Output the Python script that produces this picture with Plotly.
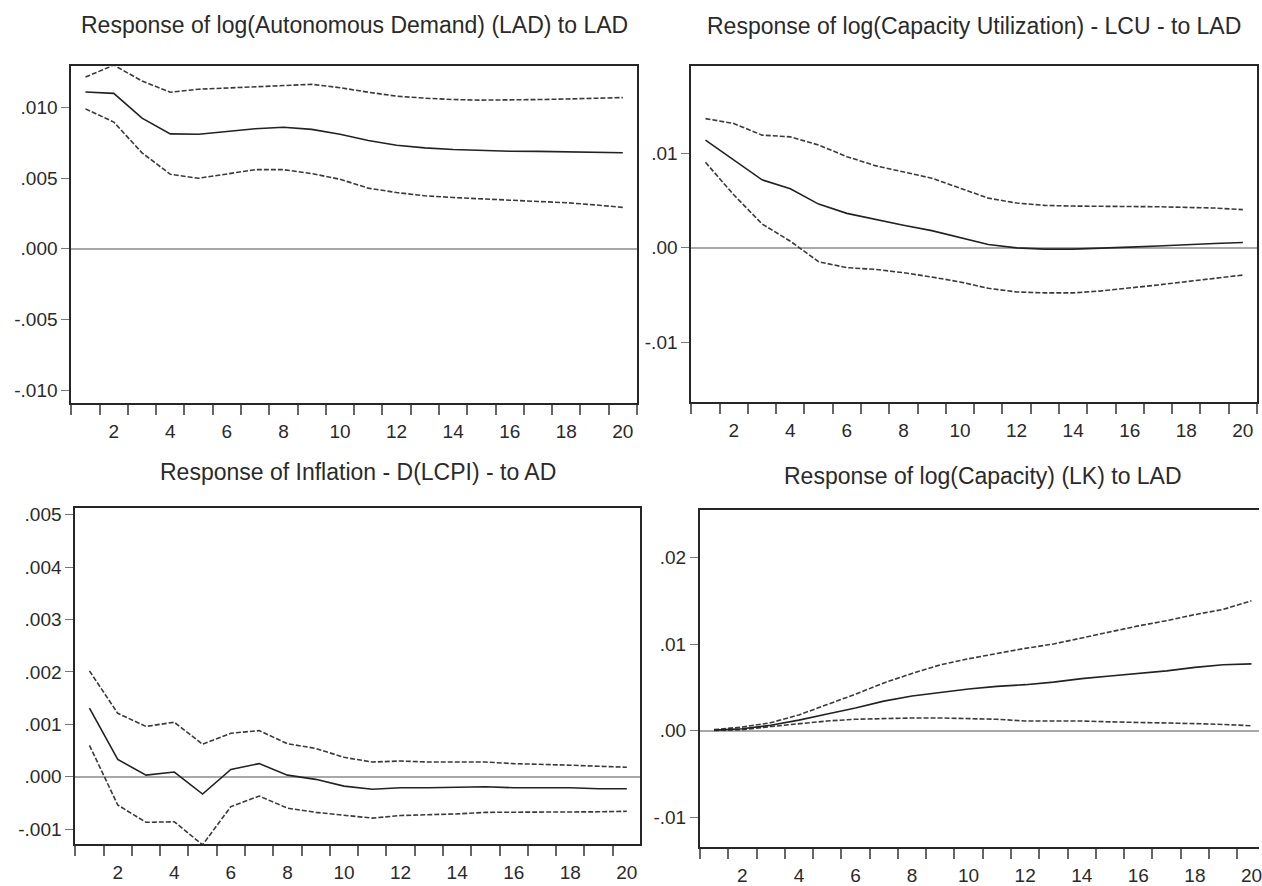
import plotly.graph_objects as go

W, H = 1262, 886

periods = list(range(1, 21))

# Panel 1: Response of LAD to LAD
lad_mid = [0.0111, 0.0110, 0.00925, 0.00813, 0.0081, 0.0083, 0.0085, 0.0086, 0.00845, 0.0081,
           0.00766, 0.00733, 0.00714, 0.00703, 0.00696, 0.0069, 0.00689, 0.00686, 0.00684, 0.0068]
lad_hi = [0.01215, 0.0130, 0.01187, 0.01108, 0.01129, 0.01136, 0.01143, 0.01155, 0.01164, 0.0114,
          0.01108, 0.0108, 0.01066, 0.01056, 0.01052, 0.01052, 0.01056, 0.0106, 0.01066, 0.0107]
lad_lo = [0.0099, 0.00897, 0.00679, 0.00527, 0.00499, 0.00527, 0.0056, 0.0056, 0.00532, 0.00492,
          0.00429, 0.00398, 0.00375, 0.00363, 0.00351, 0.00344, 0.00335, 0.00326, 0.00311, 0.00293]

# Panel 2: Response of LCU to LAD
lcu_mid = [0.0114, 0.0093, 0.0072, 0.00625, 0.00463, 0.00365, 0.00298, 0.00239, 0.00182, 0.00105,
           0.00035, 0.0, -0.00014, -0.00014, -0.00007, 0.00007, 0.0002, 0.00035, 0.00046, 0.00056]
lcu_hi = [0.01368, 0.01316, 0.01193, 0.01175, 0.01088, 0.00965, 0.0087, 0.008, 0.00737, 0.00632,
          0.00526, 0.00474, 0.00449, 0.00442, 0.00442, 0.00439, 0.00435, 0.00428, 0.00421, 0.00404]
lcu_lo = [0.00905, 0.00561, 0.00253, 0.0007, -0.00147, -0.0021, -0.00228, -0.00263, -0.00309, -0.00361,
          -0.00428, -0.00467, -0.00477, -0.00477, -0.00456, -0.00428, -0.00393, -0.00358, -0.00323, -0.00288]

# Panel 3: Response of Inflation to AD
inf_mid = [0.00131, 0.00033, 0.00003, 0.00009, -0.00033, 0.00014, 0.00025, 0.00003, -0.00005, -0.00018,
           -0.00024, -0.00021, -0.00021, -0.0002, -0.00019, -0.00021, -0.00021, -0.00021, -0.00023, -0.00023]
inf_hi = [0.00202, 0.00121, 0.00096, 0.00104, 0.00062, 0.00083, 0.00088, 0.00063, 0.00054, 0.00037,
          0.00028, 0.0003, 0.00028, 0.00028, 0.00028, 0.00025, 0.00024, 0.00022, 0.0002, 0.00018]
inf_lo = [0.0006, -0.00054, -0.00087, -0.00086, -0.0013, -0.00057, -0.00037, -0.0006, -0.00068, -0.00074,
          -0.00079, -0.00074, -0.00073, -0.00071, -0.00068, -0.00068, -0.00068, -0.00068, -0.00067, -0.00066]

# Panel 4: Response of LK to LAD
lk_mid = [0.00004, 0.0002, 0.0006, 0.0012, 0.0019, 0.0026, 0.0034, 0.004, 0.0044, 0.0048,
          0.0051, 0.0053, 0.0056, 0.006, 0.0063, 0.0066, 0.0069, 0.0073, 0.0076, 0.0077]
lk_hi = [0.0001, 0.0004, 0.0009, 0.0018, 0.003, 0.0042, 0.0055, 0.0066, 0.0076, 0.0083,
         0.0089, 0.0095, 0.01, 0.0107, 0.0114, 0.0121, 0.0127, 0.0134, 0.014, 0.015]
lk_lo = [0.0, 0.0001, 0.00046, 0.0008, 0.0011, 0.0013, 0.0014, 0.00145, 0.00145, 0.0014,
         0.0013, 0.0011, 0.0011, 0.0011, 0.001, 0.00095, 0.0009, 0.0008, 0.0007, 0.00055]

titles = ["Response of log(Autonomous Demand) (LAD) to LAD",
          "Response of log(Capacity Utilization) - LCU - to LAD",
          "Response of Inflation - D(LCPI) - to AD",
          "Response of log(Capacity) (LK) to LAD"]

ytick_vals = [[-0.010, -0.005, 0.0, 0.005, 0.010],
              [-0.01, 0.0, 0.01],
              [-0.001, 0.0, 0.001, 0.002, 0.003, 0.004, 0.005],
              [-0.01, 0.0, 0.01, 0.02]]
ytick_text = [["-.010", "-.005", ".000", ".005", ".010"],
              ["-.01", ".00", ".01"],
              ["-.001", ".000", ".001", ".002", ".003", ".004", ".005"],
              ["-.01", ".00", ".01", ".02"]]
xtick_vals = [2, 4, 6, 8, 10, 12, 14, 16, 18, 20]
xtick_text = [str(v) for v in xtick_vals]
boundary_ticks = [i + 0.5 for i in range(0, 21)]

series = [(lad_mid, lad_hi, lad_lo), (lcu_mid, lcu_hi, lcu_lo),
          (inf_mid, inf_hi, inf_lo), (lk_mid, lk_hi, lk_lo)]

# pixel boxes (left, right, top, bottom)
boxes = [(71.5, 638.5, 64, 403), (693, 1260, 63, 402),
         (75.5, 642, 509, 848), (701.6, 1262, 511, 851)]
yranges = [[-0.0109, 0.0129], [-0.0163, 0.0193], [-0.00129, 0.00513], [-0.0135, 0.0255]]
unit = 28.35
title_y = [22, 23, 473, 477]

fig = go.Figure()
FONT = "Liberation Sans, Arial, sans-serif"
LINE = "#262626"

for i, ((mid, hi, lo), (l, r, t, b)) in enumerate(zip(series, boxes)):
    n = i + 1
    xa = "x" if n == 1 else f"x{n}"
    ya = "y" if n == 1 else f"y{n}"
    for vals, dash, col in ((hi, "5px,2px", "#3a3a3a"), (lo, "5px,2px", "#3a3a3a"), (mid, "solid", "#222222")):
        fig.add_trace(go.Scatter(x=periods, y=vals, mode="lines", xaxis=xa, yaxis=ya,
                                 line=dict(color=col, width=1.6, dash=dash),
                                 showlegend=False, hoverinfo="skip"))
    xmax = 0.5 + (r - l) / unit
    xkey = "xaxis" if n == 1 else f"xaxis{n}"
    ykey = "yaxis" if n == 1 else f"yaxis{n}"
    fig.update_layout(**{
        xkey: dict(domain=[l / W, r / W], anchor=ya, range=[0.5, xmax],
                   showgrid=False, zeroline=False,
                   showline=True, linecolor=LINE, linewidth=2, mirror=True,
                   tickmode="array", tickvals=xtick_vals, ticktext=xtick_text,
                   ticks="outside", ticklen=10, tickcolor="rgba(0,0,0,0)",
                   ticklabeloverflow="allow",
                   tickfont=dict(family=FONT, size=19, color="#2a2a2a"),
                   minor=dict(tickmode="array", tickvals=boundary_ticks, ticks="outside",
                              ticklen=10, tickwidth=1.5, tickcolor="#666", showgrid=False),
                   fixedrange=True),
        ykey: dict(domain=[1 - b / H, 1 - t / H], anchor=xa, range=yranges[i],
                   showgrid=False,
                   zeroline=True, zerolinecolor="#a8a8a8", zerolinewidth=2,
                   showline=True, linecolor=LINE, linewidth=2, mirror=(n != 4),
                   tickmode="array", tickvals=ytick_vals[i], ticktext=ytick_text[i],
                   ticks="outside", ticklen=8, tickwidth=1.2, tickcolor="#777",
                   tickfont=dict(family=FONT, size=19, color="#2a2a2a"),
                   fixedrange=True),
    })
    fig.add_annotation(text=titles[i], xref="paper", yref="paper",
                       x=((l + (l + 20 * unit)) / 2) / W, y=1 - title_y[i] / H,
                       xanchor="center", yanchor="middle", showarrow=False,
                       font=dict(family=FONT, size=23, color="#2a2a2a"))

fig.update_layout(width=W, height=H, margin=dict(l=0, r=0, t=0, b=0),
                  paper_bgcolor="white", plot_bgcolor="white", showlegend=False)

fig.write_html("out.html", config={"displayModeBar": False})
